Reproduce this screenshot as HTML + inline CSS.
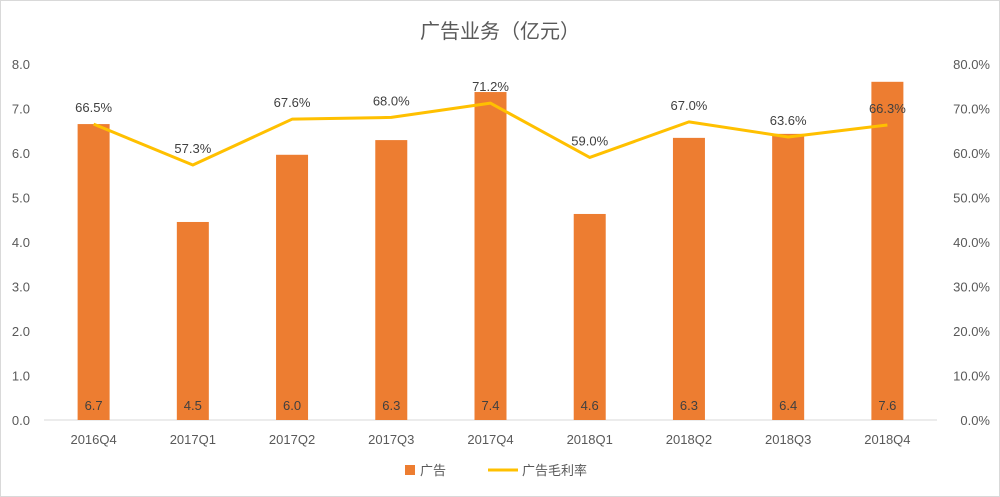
<!DOCTYPE html>
<html><head><meta charset="utf-8"><style>
body{margin:0;background:#fff;}
svg{display:block;font-family:"Liberation Sans","Noto Sans CJK SC",sans-serif;}
</style></head><body>
<svg id="c" width="1000" height="497">
<rect x="0.5" y="0.5" width="999" height="496" fill="#fff" stroke="#d9d9d9"/>
<text x="500" y="38" text-anchor="middle" font-size="20" fill="#595959">广告业务（亿元）</text>
<g id="plot"></g>
<g>
<rect x="405" y="465" width="10" height="10" fill="#ed7d31"/>
<text x="420" y="475" font-size="13" fill="#595959">广告</text>
<line x1="488" y1="470" x2="518" y2="470" stroke="#ffc000" stroke-width="3"/>
<text x="522" y="475" font-size="13" fill="#595959">广告毛利率</text>
</g>
</svg>
<script>
const categories=["2016Q4","2017Q1","2017Q2","2017Q3","2017Q4","2018Q1","2018Q2","2018Q3","2018Q4"];
const revenue=[6.65,4.45,5.96,6.29,7.37,4.63,6.34,6.43,7.6];
const revenueLabels=["6.7","4.5","6.0","6.3","7.4","4.6","6.3","6.4","7.6"];
const margin=[66.5,57.3,67.6,68.0,71.2,59.0,67.0,63.6,66.3];
const leftTicks=[0,1,2,3,4,5,6,7,8];
const rightTicks=[0,10,20,30,40,50,60,70,80];
const NS="http://www.w3.org/2000/svg";
const g=document.getElementById('plot');
const x0=44,x1=937,yBase=420,yTop=64;
const step=(x1-x0)/categories.length;
const xC=i=>x0+step*(i+0.5);
const yL=v=>yBase-(v/8)*(yBase-yTop);
const yR=v=>yBase-(v/80)*(yBase-yTop);
function mk(tag,attrs,txt){const e=document.createElementNS(NS,tag);for(const k in attrs)e.setAttribute(k,attrs[k]);if(txt!==undefined)e.textContent=txt;g.appendChild(e);return e;}
leftTicks.forEach(t=>{const e=mk('text',{x:30,y:yL(t)+5,'text-anchor':'end','font-size':13,fill:'#595959'},t.toFixed(1));

});
rightTicks.forEach(t=>{const e=mk('text',{x:990,y:yR(t)+5,'text-anchor':'end','font-size':13,fill:'#595959'},t.toFixed(1)+'%');

});
const ax=mk('line',{x1:x0,y1:yBase,x2:x1,y2:yBase,stroke:'#d9d9d9','stroke-width':1});


categories.forEach((c,i)=>{
const b=mk('rect',{x:xC(i)-16,y:yL(revenue[i]),width:32,height:yBase-yL(revenue[i]),fill:'#ed7d31'});


const l=mk('text',{x:xC(i),y:yBase-10,'text-anchor':'middle','font-size':13,fill:'#404040'},revenueLabels[i]);


const t=mk('text',{x:xC(i),y:yBase+24,'text-anchor':'middle','font-size':13,fill:'#595959'},c);


});
const pl=mk('polyline',{points:margin.map((m,i)=>xC(i)+','+yR(m)).join(' '),fill:'none',stroke:'#ffc000','stroke-width':3,'stroke-linejoin':'round'});


margin.forEach((m,i)=>{
const t=mk('text',{x:xC(i),y:yR(m)-12,'text-anchor':'middle','font-size':13,fill:'#404040'},m.toFixed(1)+'%');


});
</script>
</body></html>
